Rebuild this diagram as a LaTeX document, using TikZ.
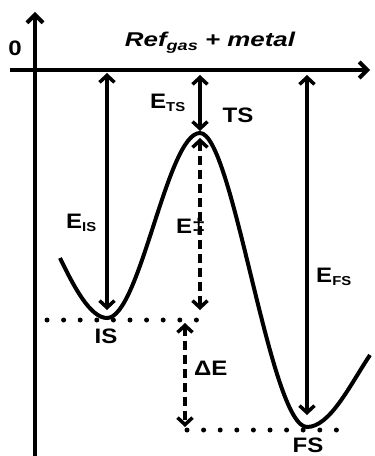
\documentclass[tikz,border=0pt]{standalone}
\usepackage{fontspec}
\setmainfont{Liberation Sans}[FakeStretch=1.15]
\newfontfamily\reffont{Liberation Sans}[FakeStretch=1.3]
\usetikzlibrary{arrows.meta}
\newcommand{\lowidx}[1]{\raisebox{-3bp}{\fontsize{13}{13}\selectfont #1}}

\begin{document}
\begin{tikzpicture}[x=10bp, y=10bp,
  lbl/.style={font=\fontsize{21}{21}\selectfont\bfseries, inner sep=0pt, anchor=base},
  axis/.style={line width=4bp, -{Straight Barb[length=8bp, width=16bp, line width=4bp]}},
  en/.style={line width=3.5bp, {Straight Barb[length=7bp, width=15bp, line width=3.5bp]}-{Straight Barb[length=7bp, width=15bp, line width=3.5bp]}},
  dashen/.style={en, line width=4bp, dash pattern=on 9bp off 5bp},
  dotline/.style={line width=5bp, line cap=round, dash pattern=on 0bp off 16.6bp}]
\useasboundingbox (-3.5,7.0) rectangle (34.0,-38.6);
% Eixos
\coordinate (ybot) at (0,-38.6);
\coordinate (ytop) at (0,5.8);
\coordinate (xl) at (-2.5,0);
\coordinate (xr) at (33.5,0);
\draw[axis] (ybot) -- (ytop);
\draw[axis] (xl) -- (xr);
\node[lbl] (zero) at (-2.0,1.5) {0};
\node[lbl, font=\reffont\fontsize{20}{20}\selectfont\bfseries\itshape] (ref) at (17.5,2.4) {Ref\raisebox{-4bp}{\fontsize{14}{14}\selectfont gas} + metal};
% Curva de energia
\coordinate (st) at (2.5,-18.8);
\coordinate (is) at (7.2,-24.8);
\coordinate (ts) at (16.5,-6.3);
\coordinate (fs) at (27.2,-35.7);
\coordinate (fe) at (33.5,-28.5);
\draw[line width=4bp] (st) .. controls (3.8,-21.5) and (5.5,-24.8) .. (is)
  .. controls (10.5,-24.8) and (13.2,-6.3) .. (ts)
  .. controls (19.8,-6.3) and (23.5,-35.7) .. (fs)
  .. controls (29.5,-35.7) and (31.5,-31.5) .. (fe);
% Niveis
\coordinate (isL) at (1.2,-25.0);
\coordinate (isR) at (16.5,-25.0);
\coordinate (fsL) at (15.2,-36.0);
\coordinate (fsR) at (31.7,-36.0);
\draw[dotline] (isL) -- (isR);
\draw[dotline] (fsL) -- (fsR);
% Setas
\coordinate (isA) at (7.2,-0.3);
\coordinate (isB) at (7.2,-24.0);
\coordinate (tsA) at (16.5,-0.5);
\coordinate (tsB) at (16.5,-6.1);
\coordinate (dgA) at (16.5,-6.8);
\coordinate (dgB) at (16.5,-24.0);
\coordinate (deA) at (15.0,-25.3);
\coordinate (deB) at (15.0,-35.7);
\coordinate (fsA) at (27.2,-0.5);
\coordinate (fsB) at (27.2,-34.5);
\draw[en] (isA) -- (isB);
\draw[en] (tsA) -- (tsB);
\draw[dashen] (dgA) -- (dgB);
\draw[dashen] (deA) -- (deB);
\draw[en] (fsA) -- (fsB);
% Rotulos
\node[lbl, anchor=base west] (eis) at (3.1,-15.8) {E\lowidx{IS}};
\node[lbl, anchor=base west] (ets) at (11.5,-3.8) {E\lowidx{TS}};
\node[lbl, anchor=base west] (edag) at (14.1,-16.3) {E‡};
\node[lbl, anchor=base west] (efs) at (28.1,-21.2) {E\lowidx{FS}};
\node[lbl] (tsl) at (20.3,-5.2) {TS};
\node[lbl] (isl) at (7.1,-27.3) {IS};
\node[lbl] (fsl) at (27.3,-38.2) {FS};
\node[lbl, anchor=base west] (de) at (15.9,-30.5) {ΔE};
\end{tikzpicture}
\end{document}
